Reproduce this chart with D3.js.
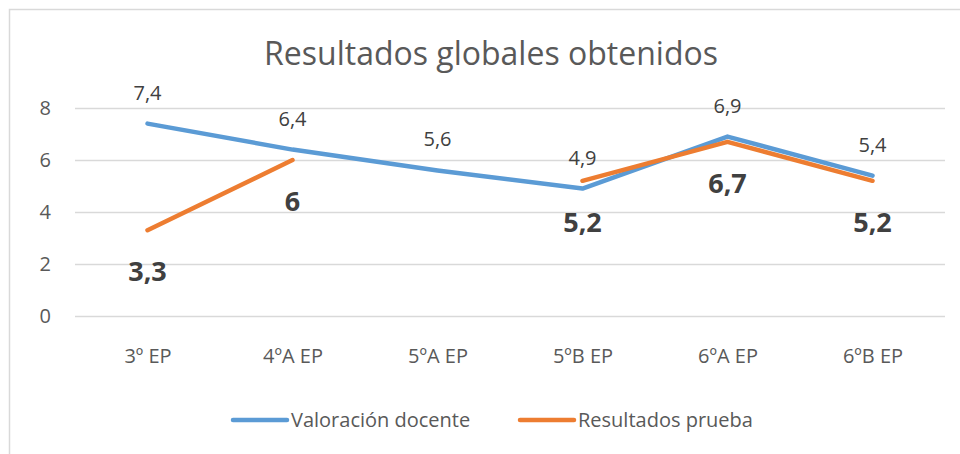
<!DOCTYPE html>
<html>
<head>
<meta charset="utf-8">
<script src="https://cdnjs.cloudflare.com/ajax/libs/d3/7.8.5/d3.min.js"></script>
<style>
  body { margin: 0; background: #fff; }
  svg { display: block; font-family: "Open Sans", "Noto Sans", sans-serif; }
</style>
</head>
<body>
<div id="chart"></div>
<script>
const categories = ['3º EP', '4ºA EP', '5ºA EP', '5ºB EP', '6ºA EP', '6ºB EP'];
const valoracionDocente = [7.4, 6.4, 5.6, 4.9, 6.9, 5.4];
const resultadosPrueba = [3.3, 6, null, 5.2, 6.7, 5.2];
const yTicks = [0, 2, 4, 6, 8];

const width = 960, height = 454;
const margin = { left: 75, right: 15, top: 108, bottom: 138 };
const fontSize = 20;

const svg = d3.select('#chart').append('svg')
  .attr('width', width)
  .attr('height', height);

// chart area border (only top/left visible in the original crop)
svg.append('path')
  .attr('d', `M9.5,${height} V9.5 H${width}`)
  .attr('fill', 'none')
  .attr('stroke', '#d9d9d9')
  .attr('stroke-width', 1.5);

const x = d3.scalePoint()
  .domain(categories)
  .range([margin.left, width - margin.right])
  .padding(0.5);

const y = d3.scaleLinear()
  .domain([0, 8])
  .range([height - margin.bottom, margin.top]);

// gridlines
svg.append('g')
  .selectAll('line')
  .data(yTicks)
  .join('line')
  .attr('x1', margin.left)
  .attr('x2', width - margin.right)
  .attr('y1', d => y(d) + 0.5)
  .attr('y2', d => y(d) + 0.5)
  .attr('stroke', '#d9d9d9')
  .attr('stroke-width', 1.3);

// y axis labels
const yAxis = svg.append('g')
  .attr('transform', `translate(${margin.left - 24},0)`)
  .call(d3.axisLeft(y).tickValues(yTicks).tickSize(0).tickPadding(0));
yAxis.select('.domain').remove();
yAxis.selectAll('text')
  .attr('font-size', fontSize)
  .attr('font-family', '"Open Sans", sans-serif')
  .attr('fill', '#595959');

// x axis labels
const xAxis = svg.append('g')
  .attr('transform', `translate(0,363)`)
  .call(d3.axisBottom(x).tickSize(0).tickPadding(0));
xAxis.select('.domain').remove();
xAxis.selectAll('text')
  .attr('y', 0)
  .attr('dy', 0)
  .attr('font-size', fontSize)
  .attr('font-family', '"Open Sans", sans-serif')
  .attr('fill', '#595959');

// title
svg.append('text')
  .attr('x', 491)
  .attr('y', 65)
  .attr('text-anchor', 'middle')
  .attr('font-size', 32)
  .attr('fill', '#595959')
  .text('Resultados globales obtenidos');

const line = d3.line()
  .defined(d => d.v !== null)
  .x(d => x(d.c))
  .y(d => y(d.v));

const series = [
  { name: 'Valoración docente', color: '#5b9bd5', values: valoracionDocente },
  { name: 'Resultados prueba', color: '#ed7d31', values: resultadosPrueba }
];

series.forEach(s => {
  s.points = categories.map((c, i) => ({ c, v: s.values[i] }));
  svg.append('path')
    .datum(s.points)
    .attr('d', line)
    .attr('fill', 'none')
    .attr('stroke', s.color)
    .attr('stroke-width', 4.5)
    .attr('stroke-linecap', 'round')
    .attr('stroke-linejoin', 'round');
});

const fmt = v => String(v).replace('.', ',');

// blue labels above
svg.append('g')
  .selectAll('text')
  .data(series[0].points)
  .join('text')
  .attr('x', d => x(d.c))
  .attr('y', d => y(d.v) - 24)
  .attr('text-anchor', 'middle')
  .attr('font-size', fontSize)
  .attr('fill', '#404040')
  .text(d => fmt(d.v));

// orange labels below, bold
svg.append('g')
  .selectAll('text')
  .data(series[1].points.filter(d => d.v !== null))
  .join('text')
  .attr('x', d => x(d.c))
  .attr('y', d => y(d.v) + 51)
  .attr('text-anchor', 'middle')
  .attr('font-size', 27)
  .attr('font-weight', 'bold')
  .attr('fill', '#404040')
  .text(d => fmt(d.v));

// legend
const legendX = [233, 520];
const legend = svg.append('g')
  .selectAll('g')
  .data(series)
  .join('g')
  .attr('transform', (d, i) => `translate(${legendX[i]},420)`);
legend.append('line')
  .attr('x1', 0).attr('x2', 54)
  .attr('stroke', d => d.color)
  .attr('stroke-width', 4.5)
  .attr('stroke-linecap', 'round');
legend.append('text')
  .attr('x', 58)
  .attr('dy', '0.35em')
  .attr('font-size', fontSize)
  .attr('fill', '#595959')
  .text(d => d.name);
</script>
</body>
</html>
